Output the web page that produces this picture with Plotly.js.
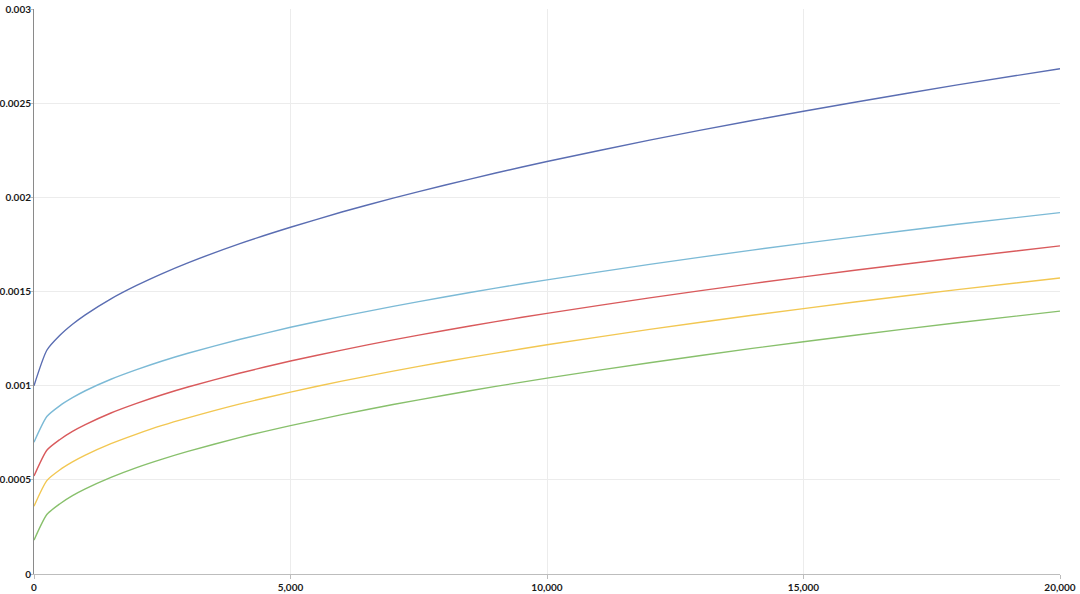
<!DOCTYPE html>
<html>
<head>
<meta charset="utf-8">
<script src="https://cdn.plot.ly/plotly-3.0.1.min.js"></script>
<style>html,body{margin:0;padding:0;background:#fff;}#chart{width:1080px;height:594px;}</style>
</head>
<body>
<div id="chart"></div>
<script>
const xValues = [0, 250, 500, 750, 1000, 1500, 2000, 2500, 3000, 4000, 5000, 6000, 7000, 8000, 9000, 10000, 12000, 14000, 16000, 18000, 20000];

const seriesBlue = [0.001000, 0.001188, 0.001266, 0.001326, 0.001376, 0.001461, 0.001532, 0.001595, 0.001652, 0.001753, 0.001841, 0.001922, 0.001996, 0.002064, 0.002129, 0.002190, 0.002304, 0.002408, 0.002505, 0.002597, 0.002683];
const seriesCyan = [0.000700, 0.000836, 0.000893, 0.000936, 0.000973, 0.001034, 0.001085, 0.001131, 0.001172, 0.001245, 0.001310, 0.001368, 0.001421, 0.001471, 0.001518, 0.001562, 0.001644, 0.001720, 0.001790, 0.001857, 0.001919];
const seriesRed = [0.000520, 0.000657, 0.000713, 0.000757, 0.000793, 0.000855, 0.000906, 0.000952, 0.000993, 0.001066, 0.001131, 0.001189, 0.001243, 0.001293, 0.001340, 0.001384, 0.001466, 0.001542, 0.001613, 0.001679, 0.001742];
const seriesYellow = [0.000360, 0.000496, 0.000552, 0.000595, 0.000631, 0.000692, 0.000743, 0.000789, 0.000829, 0.000902, 0.000966, 0.001024, 0.001077, 0.001127, 0.001173, 0.001217, 0.001299, 0.001374, 0.001444, 0.001510, 0.001572];
const seriesGreen = [0.000180, 0.000316, 0.000372, 0.000416, 0.000452, 0.000513, 0.000565, 0.000610, 0.000651, 0.000724, 0.000788, 0.000846, 0.000900, 0.000949, 0.000996, 0.001040, 0.001122, 0.001198, 0.001268, 0.001334, 0.001396];

const xTickVals = [0, 5000, 10000, 15000, 20000];
const xTickText = ['0', '5,000', '10,000', '15,000', '20,000'];
const yTickVals = [0, 0.0005, 0.001, 0.0015, 0.002, 0.0025, 0.003];
const yTickText = ['0', '0.0005', '0.001', '0.0015', '0.002', '0.0025', '0.003'];

const series = [
  {y: seriesBlue, color: '#5a6db2'},
  {y: seriesCyan, color: '#7cbad6'},
  {y: seriesRed, color: '#d95a5c'},
  {y: seriesYellow, color: '#f2c752'},
  {y: seriesGreen, color: '#88c06c'}
];

const traces = series.map(s => ({
  type: 'scatter', mode: 'lines', x: xValues, y: s.y,
  line: {color: s.color, width: 1.4, shape: 'spline', smoothing: 0.6},
  hoverinfo: 'x+y', showlegend: false
}));

const tickFont = {family: 'Lato, sans-serif', size: 10, color: '#1a1a1a', weight: 'bold'};

const layout = {
  width: 1080, height: 594,
  margin: {l: 34, r: 20, t: 9, b: 20, pad: 0},
  paper_bgcolor: '#fff', plot_bgcolor: '#fff',
  showlegend: false,
  xaxis: {
    range: [0, 20000], tickvals: xTickVals, ticktext: xTickText,
    showgrid: true, gridcolor: '#ececec', gridwidth: 1,
    showline: true, linecolor: '#bdbdbd', linewidth: 1,
    ticks: 'outside', ticklen: 4, tickcolor: '#bdbdbd',
    zeroline: false, tickfont: tickFont, fixedrange: true
  },
  yaxis: {
    range: [0, 0.003], tickvals: yTickVals, ticktext: yTickText,
    showgrid: true, gridcolor: '#ececec', gridwidth: 1,
    showline: true, linecolor: '#8a8a8a', linewidth: 1,
    ticks: 'outside', ticklen: 3, tickcolor: '#bdbdbd',
    ticklabelstandoff: -3,
    zeroline: false, tickfont: tickFont, fixedrange: true
  }
};

Plotly.newPlot('chart', traces, layout, {displayModeBar: false, staticPlot: true});
</script>
</body>
</html>
